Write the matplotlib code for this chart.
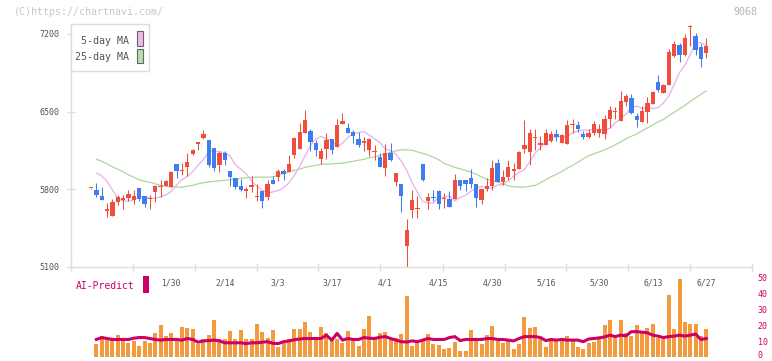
import matplotlib
matplotlib.use('Agg')
import matplotlib.pyplot as plt
import matplotlib.transforms as mtransforms
import numpy as np
from matplotlib.patches import Rectangle

plt.rcParams['font.family'] = ['DejaVu Sans Mono']

nan = float('nan')

# daily candles (first candle is the day before the volume series starts)
opens = [5808, 5796, 5742, 5607, 5556, 5682, 5700, 5718, 5706, 5811,
         5742, 5712, 5772, 5822, 5826, 5817, 6030, 5964, 5997, 6114,
         6213, 6267, 6246, 6171, 6015, 6126, 5967, 5901, 5832, 5787,
         5823, 5727, 5787, 5727, 5886, 5907, 5967, 5952, 6105, 6165,
         6306, 6327, 6222, 6075, 6165, 6252, 6177, 6393, 6354, 6318,
         6252, 6222, 6156, 6132, 6090, 5991, 6126, 5862, 5850, 5286,
         5610, 5622, 6030, 5691, 5730, 5787, 5712, 5712, 5712, 5886,
         5886, 5901, 5850, 5700, 5802, 5826, 6036, 5862, 5910, 5961,
         5985, 6162, 6132, 6264, 6204, 6201, 6240, 6300, 6222, 6210,
         6378, 6381, 6300, 6270, 6306, 6306, 6300, 6432, 6498, 6420,
         6591, 6621, 6462, 6411, 6498, 6567, 6771, 6672, 6738, 7002,
         7101, 7011, 7263, 7182, 7080, 7032]
highs = [5815, 5856, 5820, 5676, 5712, 5751, 5751, 5796, 5796, 5811,
         5742, 5751, 5841, 5886, 5886, 5961, 6030, 6036, 6126, 6160,
         6231, 6336, 6246, 6171, 6141, 6141, 5967, 5901, 5895, 5820,
         5922, 5850, 5787, 5886, 5916, 5982, 5985, 6111, 6276, 6396,
         6516, 6340, 6246, 6171, 6312, 6252, 6435, 6486, 6402, 6336,
         6318, 6270, 6260, 6201, 6126, 6207, 6222, 5950, 5850, 5535,
         5796, 5736, 6030, 5766, 5796, 5790, 5766, 5787, 5940, 5886,
         5886, 5982, 5850, 5805, 5901, 6066, 6072, 5970, 6066, 6036,
         6141, 6426, 6342, 6342, 6282, 6342, 6327, 6342, 6295, 6426,
         6432, 6420, 6327, 6342, 6420, 6390, 6471, 6552, 6540, 6690,
         6660, 6660, 6486, 6552, 6636, 6690, 6831, 6745, 7068, 7140,
         7122, 7200, 7281, 7212, 7110, 7161]
lows = [5805, 5730, 5700, 5550, 5556, 5661, 5622, 5691, 5670, 5691,
        5640, 5622, 5682, 5730, 5826, 5817, 5901, 5931, 5916, 6110,
        6150, 6252, 5997, 5961, 5952, 6015, 5826, 5802, 5781, 5718,
        5772, 5691, 5631, 5706, 5850, 5871, 5880, 5952, 6081, 6165,
        6306, 6141, 6096, 6030, 6072, 6120, 6177, 6393, 6312, 6222,
        6180, 6141, 6102, 6060, 5997, 5916, 6051, 5826, 5592, 5094,
        5541, 5541, 5877, 5622, 5691, 5622, 5631, 5640, 5712, 5790,
        5781, 5811, 5640, 5670, 5781, 5790, 5862, 5841, 5886, 5886,
        5985, 6126, 6021, 6156, 6150, 6201, 6231, 6240, 6222, 6210,
        6306, 6318, 6252, 6261, 6291, 6273, 6252, 6351, 6432, 6420,
        6552, 6480, 6366, 6411, 6402, 6567, 6681, 6672, 6738, 6996,
        6951, 7002, 7092, 7011, 6906, 6981]
closes = [5812, 5751, 5700, 5616, 5688, 5730, 5724, 5760, 5742, 5712,
          5667, 5715, 5826, 5826, 5877, 5952, 5961, 5967, 6042, 6156,
          6216, 6300, 6021, 5991, 6126, 6060, 5907, 5820, 5796, 5790,
          5826, 5730, 5691, 5850, 5850, 5961, 5937, 6030, 6261, 6315,
          6426, 6231, 6150, 6141, 6246, 6156, 6381, 6417, 6312, 6285,
          6204, 6225, 6255, 6135, 5997, 6126, 6060, 5946, 5736, 5436,
          5706, 5625, 5886, 5730, 5721, 5670, 5715, 5640, 5886, 5826,
          5850, 5850, 5721, 5802, 5832, 5991, 5862, 5910, 6000, 5985,
          6132, 6201, 6306, 6267, 6207, 6306, 6300, 6270, 6291, 6381,
          6381, 6348, 6270, 6312, 6390, 6345, 6435, 6516, 6501, 6597,
          6642, 6492, 6426, 6510, 6576, 6681, 6696, 6741, 7038, 7110,
          7014, 7161, 7266, 7056, 6972, 7092]

ma5 = [nan, 5946, 5922, 5871, 5796, 5713, 5697, 5692, 5704, 5729,
       5734, 5721, 5719, 5733, 5749, 5782, 5839, 5888, 5917, 5960,
       6016, 6068, 6136, 6147, 6137, 6131, 6100, 6021, 5981, 5942,
       5875, 5828, 5792, 5767, 5777, 5789, 5816, 5858, 5926, 6008,
       6101, 6194, 6253, 6277, 6253, 6239, 6185, 6215, 6268, 6302,
       6310, 6320, 6289, 6256, 6221, 6163, 6148, 6115, 6053, 5973,
       5861, 5777, 5690, 5678, 5677, 5734, 5726, 5744, 5695, 5726,
       5747, 5783, 5810, 5827, 5810, 5811, 5839, 5842, 5879, 5919,
       5950, 5978, 6046, 6125, 6178, 6223, 6257, 6277, 6270, 6275,
       6310, 6325, 6334, 6334, 6338, 6340, 6333, 6350, 6400, 6437,
       6479, 6538, 6550, 6532, 6533, 6529, 6537, 6578, 6641, 6746,
       6853, 6920, 7013, 7118, 7121, 7094]
ma25 = [nan, 6072, 6052, 6030, 6003, 5981, 5958, 5931, 5909, 5886,
        5872, 5864, 5850, 5836, 5828, 5823, 5820, 5820, 5828, 5836,
        5850, 5859, 5868, 5872, 5877, 5881, 5886, 5890, 5899, 5904,
        5909, 5910, 5910, 5910, 5913, 5926, 5944, 5958, 5971, 5981,
        5998, 6008, 6016, 6026, 6027, 6030, 6033, 6036, 6044, 6052,
        6062, 6070, 6084, 6093, 6106, 6120, 6134, 6147, 6156, 6156,
        6152, 6138, 6124, 6111, 6088, 6066, 6034, 6016, 5998, 5985,
        5971, 5955, 5936, 5913, 5890, 5877, 5865, 5850, 5832, 5823,
        5820, 5820, 5828, 5835, 5859, 5886, 5913, 5936, 5962, 5990,
        6016, 6044, 6075, 6102, 6120, 6138, 6156, 6178, 6201, 6228,
        6255, 6278, 6300, 6327, 6354, 6381, 6408, 6430, 6462, 6494,
        6525, 6556, 6592, 6624, 6656, 6687]

# volume panel (starts at the second candle)
volume = [8.2, 13.3, 12.4, 11.2, 13.9, 11.2, 9.1, 10.3, 7.0, 10.3,
          9.1, 15.4, 20.3, 13.3, 15.4, 11.2, 19.0, 18.4, 17.7, 8.2,
          11.2, 13.9, 23.4, 11.2, 11.2, 16.7, 11.2, 17.1, 11.8, 11.2,
          20.9, 16.1, 12.4, 17.1, 6.5, 9.1, 11.8, 17.7, 17.7, 22.4,
          16.1, 11.2, 19.0, 15.4, 12.4, 11.2, 9.1, 16.7, 11.8, 7.0,
          17.7, 25.9, 11.2, 15.4, 16.1, 11.2, 12.4, 14.6, 38.2, 7.0,
          9.1, 11.2, 14.6, 8.2, 7.6, 5.3, 6.0, 9.8, 4.0, 4.0,
          17.1, 12.4, 8.2, 13.9, 19.6, 10.3, 9.1, 11.8, 5.3, 8.2,
          25.5, 18.2, 19.3, 11.8, 6.5, 10.8, 10.3, 11.2, 13.3, 11.8,
          6.5, 5.3, 9.1, 9.8, 11.2, 20.3, 23.4, 12.4, 23.4, 15.4,
          13.3, 20.3, 15.4, 18.2, 20.9, 12.4, 11.2, 39.2, 17.5, 49.4,
          22.4, 20.9, 20.9, 13.3, 17.7]
ai_predict = [11.2, 12.4, 11.8, 11.2, 11.2, 11.2, 11.2, 12.0, 12.4, 12.4,
              11.8, 11.2, 10.8, 11.2, 11.2, 11.2, 10.8, 11.8, 11.2, 9.5,
              10.3, 10.5, 10.8, 10.3, 9.1, 9.1, 9.1, 9.1, 8.6, 9.1,
              9.1, 9.5, 9.8, 8.8, 8.6, 9.8, 10.3, 11.0, 11.5, 11.8,
              11.8, 11.8, 11.8, 13.9, 10.8, 15.0, 10.8, 11.8, 11.2, 11.2,
              12.4, 12.0, 11.8, 12.6, 13.0, 11.8, 10.8, 9.8, 9.6, 10.3,
              9.8, 10.8, 11.8, 11.2, 11.2, 11.2, 12.4, 13.0, 10.5, 11.2,
              11.2, 11.2, 11.2, 11.8, 11.8, 11.2, 11.2, 10.8, 10.3, 11.8,
              13.0, 13.0, 13.0, 12.4, 10.5, 11.2, 10.8, 11.2, 10.8, 10.8,
              10.8, 9.8, 11.5, 11.8, 12.2, 12.8, 13.9, 13.0, 13.9, 13.5,
              16.1, 16.1, 15.8, 15.4, 13.9, 13.3, 12.4, 13.0, 13.3, 13.9,
              13.3, 13.9, 14.6, 11.2, 11.8]

date_labels = ['1/30', '2/14', '3/3', '3/17', '4/1', '4/15',
               '4/30', '5/16', '5/30', '6/13', '6/27']
date_index = [15, 25, 35, 45, 55, 65, 75, 85, 95, 105, 115]
price_ticks = [5100, 5800, 6500, 7200]
volume_ticks = [0, 10, 20, 30, 40, 50]

RED = '#f04e3c'
BLUE = '#3e7cf0'
GRID = '#dddddd'
TEXT = '#555555'
AI = '#cc0066'

W, H = 772, 361
fig = plt.figure(figsize=(W / 100, H / 100), dpi=100)


def box(x0, y0, x1, y1):
    # pixel box -> figure fraction
    return [x0 / W, 1 - y1 / H, (x1 - x0) / W, (y1 - y0) / H]


ax = fig.add_axes(box(70.7, 24, 752, 267))
axv = fig.add_axes(box(70.7, 277.7, 752, 357.3))

xs = np.arange(len(closes))
xlim = (-3.8, 123.55)

# moving averages behind the candles
ax.plot(xs, ma25, color='#acd89c', lw=0.9, zorder=1)
ax.plot(xs, ma5, color='#e8b0ea', lw=0.9, zorder=1)

o = np.array(opens, float)
c = np.array(closes, float)
colors = [RED if cc >= oo else BLUE for oo, cc in zip(o, c)]
ax.vlines(xs, lows, highs, colors=colors, lw=0.75, zorder=2)
body = np.maximum(np.abs(c - o), 12)
ax.bar(xs, body, bottom=np.minimum(o, c), width=0.8, color=colors,
       linewidth=0, zorder=3)

ax.set_xlim(*xlim)
ax.set_ylim(5100, 7290)
ax.set_yticks(price_ticks)
ax.set_yticklabels([str(t) for t in price_ticks])
ax.set_xticks([-3.8, 7.8, 19.4, 31.0, 42.5, 54.1, 65.7, 77.3, 88.8,
               100.4, 112.0, 123.55])
ax.set_xticklabels([])
ax.tick_params(axis='both', direction='inout', length=6, width=1,
               color=GRID, labelsize=6, labelcolor=TEXT, pad=5)
for side in ('top', 'right'):
    ax.spines[side].set_visible(False)
for side in ('left', 'bottom'):
    ax.spines[side].set_color(GRID)
    ax.spines[side].set_linewidth(1)

for pos, lab in zip(date_index, date_labels):
    ax.text(pos, -0.066, lab, transform=ax.get_xaxis_transform(),
            ha='center', va='center', fontsize=5.8, color=TEXT)

# volume + AI prediction
vx = np.arange(1, len(volume) + 1)
axv.bar(vx, volume, width=0.75, color='#f39a3e', linewidth=0, clip_on=False)
axv.plot(vx, ai_predict, color=AI, lw=2.2, clip_on=False)
axv.set_xlim(*xlim)
axv.set_ylim(0, 50)
axv.set_xticks([])
axv.yaxis.tick_right()
axv.set_yticks(volume_ticks)
axv.set_yticklabels([str(t) for t in volume_ticks])
axv.tick_params(axis='y', length=0, pad=4, labelsize=6, labelcolor=AI)
for s in axv.spines.values():
    s.set_visible(False)
axv.patch.set_alpha(0)
# nudge the bottom "0" label up so it stays inside the canvas
zero_lab = axv.get_yticklabels()[0]
zero_lab.set_transform(zero_lab.get_transform() +
                       mtransforms.ScaledTranslation(0, 2.5 / 100,
                                                     fig.dpi_scale_trans))

# legend box
fig.patches.append(Rectangle((70.7 / W, 1 - 71.3 / H), 78 / W, 47.3 / H,
                             transform=fig.transFigure, facecolor='white',
                             edgecolor=GRID, lw=1, zorder=5))
fig.text(129 / W, 1 - 41 / H, '5-day MA', ha='right', va='center',
         fontsize=7.2, color=TEXT, zorder=6)
fig.text(129 / W, 1 - 57 / H, '25-day MA', ha='right', va='center',
         fontsize=7.2, color=TEXT, zorder=6)
fig.patches.append(Rectangle((136.7 / W, 1 - 46 / H), 6 / W, 14.7 / H,
                             transform=fig.transFigure, facecolor='#f0b8f0',
                             edgecolor='#666666', lw=0.8, zorder=6))
fig.patches.append(Rectangle((136.7 / W, 1 - 63 / H), 6 / W, 14.3 / H,
                             transform=fig.transFigure, facecolor='#b8e0a8',
                             edgecolor='#666666', lw=0.8, zorder=6))

fig.text(76 / W, 1 - 286 / H, 'AI-Predict', ha='left', va='center',
         fontsize=7, color=AI)
fig.patches.append(Rectangle((142.5 / W, 1 - 293 / H), 6.5 / W, 17 / H,
                             transform=fig.transFigure, facecolor=AI,
                             edgecolor='none'))

fig.text(14 / W, 1 - 12 / H, '(C)https://chartnavi.com/', ha='left',
         va='center', fontsize=7.2, color='#c8c8c8')
fig.text(757 / W, 1 - 12 / H, '9068', ha='right', va='center',
         fontsize=7.2, color='#b4b4b4')

fig.savefig('out.png', dpi=100)
